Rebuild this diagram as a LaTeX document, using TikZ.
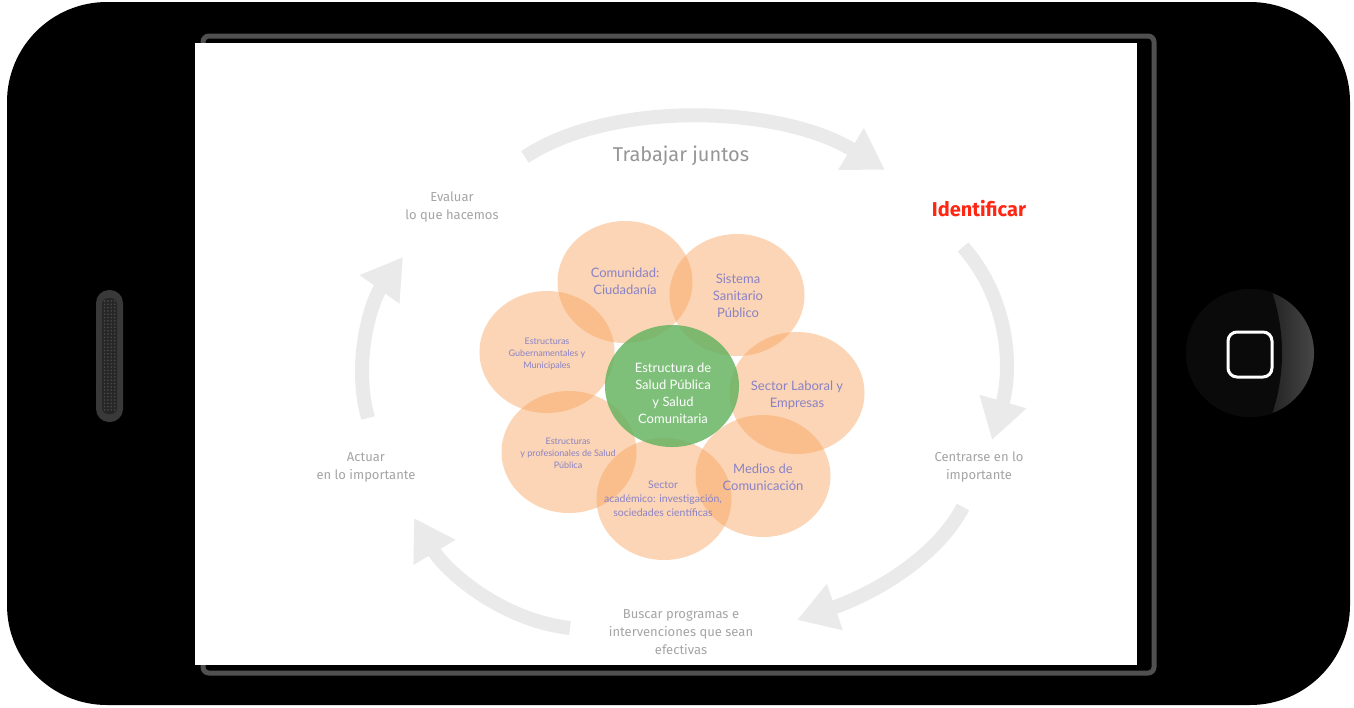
\documentclass[tikz,border=0pt]{standalone}
\usepackage{fontspec}
\setmainfont{Lato}
\newfontfamily\cyclefont{Fira Sans}
\usetikzlibrary{arrows.meta,shapes.geometric}
\definecolor{petal}{RGB}{248,163,92}
\definecolor{centergreen}{RGB}{104,180,98}
\definecolor{petaltext}{RGB}{138,130,198}
\definecolor{arrowgray}{RGB}{234,234,234}
\definecolor{labelgray}{RGB}{165,165,165}
\definecolor{titlegray}{RGB}{150,150,150}
\definecolor{idred}{RGB}{255,38,18}
\definecolor{framegray}{RGB}{80,80,80}
\begin{document}
\begin{tikzpicture}[x=1pt,y=-1pt,
  petalshape/.style={ellipse, minimum width=135pt, minimum height=122pt, inner sep=0pt, draw=none, fill=petal, fill opacity=0.45},
  centershape/.style={ellipse, minimum width=134pt, minimum height=122pt, inner sep=0pt, draw=none, fill=centergreen, fill opacity=0.85},
  bigpetal/.style={align=center, text=petaltext, inner sep=0pt, font=\fontsize{13}{17}\selectfont},
  smallpetal/.style={align=center, text=petaltext, inner sep=0pt, font=\fontsize{9}{12}\selectfont},
  midpetal/.style={align=center, text=petaltext, inner sep=0pt, font=\fontsize{10.5}{14}\selectfont},
  centertext/.style={align=center, text=white, inner sep=0pt, font=\fontsize{13}{17}\selectfont},
  cyclelabel/.style={align=center, text=labelgray, inner sep=0pt, font=\cyclefont\fontsize{13}{18}\selectfont},
  titlelabel/.style={text=titlegray, inner sep=0pt, font=\cyclefont\fontsize{20}{24}\selectfont},
  idlabel/.style={text=idred, inner sep=0pt, font=\cyclefont\bfseries\fontsize{20}{24}\selectfont},
  cyclearrow/.style={draw=arrowgray, line width=14pt, -{Triangle[width=46pt,length=40pt]}}
]
\useasboundingbox (0,0) rectangle (1354,707);
\fill[white] (0,0) rectangle (1354,707);
% phone body
\fill[black, rounded corners=100pt] (7,2) rectangle (1350,705);
% speaker grille
\fill[gray!45!black, rounded corners=13pt] (96,290) rectangle (123,422);
\fill[black!85, rounded corners=6pt] (102,298) rectangle (117,414);
\foreach \r in {0,...,33}{
  \foreach \c in {0,...,3}{
    \fill[gray!55!black] (104.5+\c*3.4,301+\r*3.3) circle[radius=1pt];
  }
}
% home button
\fill[black!96!white] (1250,353) circle[radius=64pt];
\begin{scope}
  \clip (1250,353) circle[radius=64pt];
  \shade[left color=gray!22!black, right color=gray!58!black] (1262,280) rectangle (1318,430);
  \fill[black!96!white] (1091,353) circle[radius=191pt];
\end{scope}
\draw[white, line width=3pt, rounded corners=9pt] (1228,332) rectangle (1272,377);
% screen frame and screen
\draw[framegray, line width=5pt, rounded corners=6pt] (203,36) rectangle (1154,673);
\fill[white] (195,43) rectangle (1137,665);
% cycle arrows
\coordinate (a1s) at (525,157); \coordinate (a1e) at (885,170);
\coordinate (a2s) at (963,247); \coordinate (a2e) at (992,440);
\coordinate (a3s) at (963,507); \coordinate (a3e) at (797,620);
\coordinate (a4s) at (570,628); \coordinate (a4e) at (414,518);
\coordinate (a5s) at (368,418); \coordinate (a5e) at (403,257);
\draw[cyclearrow] (a1s) .. controls (610,100) and (780,105) .. (a1e);
\draw[cyclearrow] (a2s) .. controls (1010,300) and (1012,370) .. (a2e);
\draw[cyclearrow] (a3s) .. controls (935,560) and (870,595) .. (a3e);
\draw[cyclearrow] (a4s) .. controls (500,620) and (445,570) .. (a4e);
\draw[cyclearrow] (a5s) .. controls (352,360) and (372,300) .. (a5e);
% cycle labels
\node[titlelabel] (trabajar) at (681,156) {Trabajar juntos};
\node[cyclelabel] (evaluar) at (452,207) {Evaluar\\lo que hacemos};
\node[idlabel] (identificar) at (979,209) {Identificar};
\node[cyclelabel] (centrarse) at (979,467) {Centrarse en lo\\importante};
\node[cyclelabel] (buscar) at (681,632) {Buscar programas e\\intervenciones que sean\\efectivas};
\node[cyclelabel] (actuar) at (366,467) {Actuar\\en lo importante};
% petals
\node[petalshape] (pcom) at (625,282) {};
\node[petalshape] (psis) at (737,295) {};
\node[petalshape] (plab) at (797,393) {};
\node[petalshape] (pmed) at (763,476) {};
\node[petalshape] (paca) at (664,499) {};
\node[petalshape] (ppro) at (569,452) {};
\node[petalshape] (pgub) at (547,352) {};
\node[centershape] (pcen) at (672,386) {};
% petal texts
\node[bigpetal] (tcom) at (625,281) {Comunidad:\\Ciudadanía};
\node[bigpetal] (tsis) at (738,296) {Sistema\\Sanitario\\Público};
\node[smallpetal] (tgub) at (547,354) {Estructuras\\Gubernamentales y\\Municipales};
\node[centertext] (tcen) at (673,393) {Estructura de\\Salud Pública\\y Salud\\Comunitaria};
\node[bigpetal] (tlab) at (797,395) {Sector Laboral y\\Empresas};
\node[smallpetal] (tpro) at (568,453) {Estructuras\\y profesionales de Salud\\Pública};
\node[bigpetal] (tmed) at (763,477) {Medios de\\Comunicación};
\node[midpetal] (taca) at (663,499) {Sector\\académico: investigación,\\sociedades científicas};
\end{tikzpicture}
\end{document}
